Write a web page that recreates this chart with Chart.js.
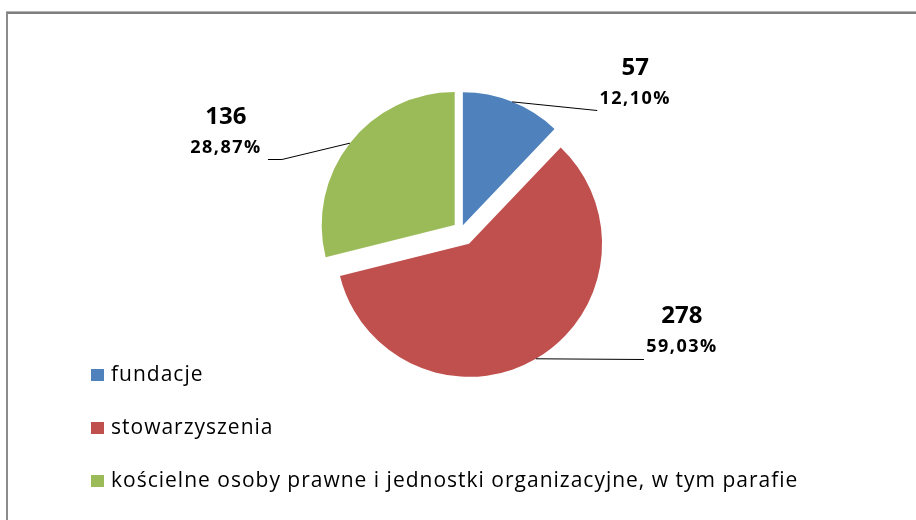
<!DOCTYPE html>
<html><head><meta charset="utf-8">
<script src="https://cdn.jsdelivr.net/npm/chart.js@4/dist/chart.umd.min.js"></script>
<style>
html,body{margin:0;padding:0;background:#fff;width:916px;height:520px;overflow:hidden}
#frame{position:absolute;left:6px;top:12px;width:1000px;height:600px;border-top:2px solid #7f7f7f;border-left:2px solid #8c8c8c;box-shadow:0 -1px 0 #b4b4b4}
#wrap{position:absolute;left:0;top:0;width:916px;height:520px}
</style></head><body>
<div id="frame"></div>
<div id="wrap"><canvas id="c" width="916" height="520"></canvas></div>
<script>
// ---- data ----
const categories = ['fundacje', 'stowarzyszenia', 'kościelne osoby prawne i jednostki organizacyjne, w tym parafie'];
const values = [57, 278, 136];
const percentLabels = ['12,10%', '59,03%', '28,87%'];

// ---- styles ----
const colors = ['#4F81BD', '#C0504D', '#9BBB59'];
const explode = [5, 16, 8];
const leader = [
  {path: [[85, 8]], text: [123, -3]},
  {path: [[108, 0]], text: [146, -12]},
  {path: [[-68, 16], [-82, 16]], text: [-124, 5]}
];
const FONT = '"Open Sans", "DejaVu Sans", sans-serif';

const explodePlugin = {
  id: 'explode',
  afterDatasetUpdate(chart, args) {
    args.meta.data.forEach((arc, i) => {
      const mid = (arc.startAngle + arc.endAngle) / 2;
      arc.x += Math.cos(mid) * explode[i];
      arc.y += Math.sin(mid) * explode[i];
    });
  }
};

const labelPlugin = {
  id: 'pieLabels',
  afterDatasetsDraw(chart) {
    const ctx = chart.ctx;
    const meta = chart.getDatasetMeta(0);
    const ds = chart.data.datasets[0];
    meta.data.forEach((arc, i) => {
      const mid = (arc.startAngle + arc.endAngle) / 2;
      const sx = arc.x + Math.cos(mid) * arc.outerRadius;
      const sy = arc.y + Math.sin(mid) * arc.outerRadius;
      const st = leader[i];
      ctx.save();
      ctx.strokeStyle = '#000';
      ctx.lineWidth = 1;
      ctx.beginPath();
      ctx.moveTo(sx, sy);
      st.path.forEach(p => ctx.lineTo(sx + p[0], Math.round(sy + p[1]) + 0.5));
      ctx.stroke();
      const tx = sx + st.text[0];
      const ty = sy + st.text[1];
      ctx.fillStyle = '#000';
      ctx.textAlign = 'center';
      ctx.textBaseline = 'middle';
      ctx.font = 'bold 18px ' + FONT;
      if ('letterSpacing' in ctx) ctx.letterSpacing = '1.5px';
      ctx.fillText(percentLabels[i], tx, ty);
      if ('letterSpacing' in ctx) ctx.letterSpacing = '0px';
      ctx.font = 'bold 24px ' + FONT;
      ctx.fillText(String(ds.data[i]), tx, ty - 31);
      ctx.restore();
    });
  }
};

const legendPlugin = {
  id: 'stackLegend',
  afterDraw(chart) {
    const ctx = chart.ctx;
    const ds = chart.data.datasets[0];
    ctx.save();
    ctx.font = '21px ' + FONT;
    if ('letterSpacing' in ctx) ctx.letterSpacing = '1px';
    ctx.textBaseline = 'middle';
    ctx.textAlign = 'left';
    chart.data.labels.forEach((lab, i) => {
      const y = 375 + i * 53;
      ctx.fillStyle = ds.backgroundColor[i];
      ctx.fillRect(91, y - 6, 13, 12);
      ctx.fillStyle = '#000';
      ctx.fillText(lab, 111, y);
    });
    ctx.restore();
  }
};

new Chart(document.getElementById('c'), {
  type: 'pie',
  data: {
    labels: categories,
    datasets: [{data: values, backgroundColor: colors, borderWidth: 0, radius: 133}]
  },
  options: {
    responsive: false,
    animation: false,
    events: [],
    layout: {padding: {left: 311, right: 305, top: 80, bottom: 140}},
    plugins: {legend: {display: false}, tooltip: {enabled: false}}
  },
  plugins: [explodePlugin, labelPlugin, legendPlugin]
});
</script>
</body></html>
